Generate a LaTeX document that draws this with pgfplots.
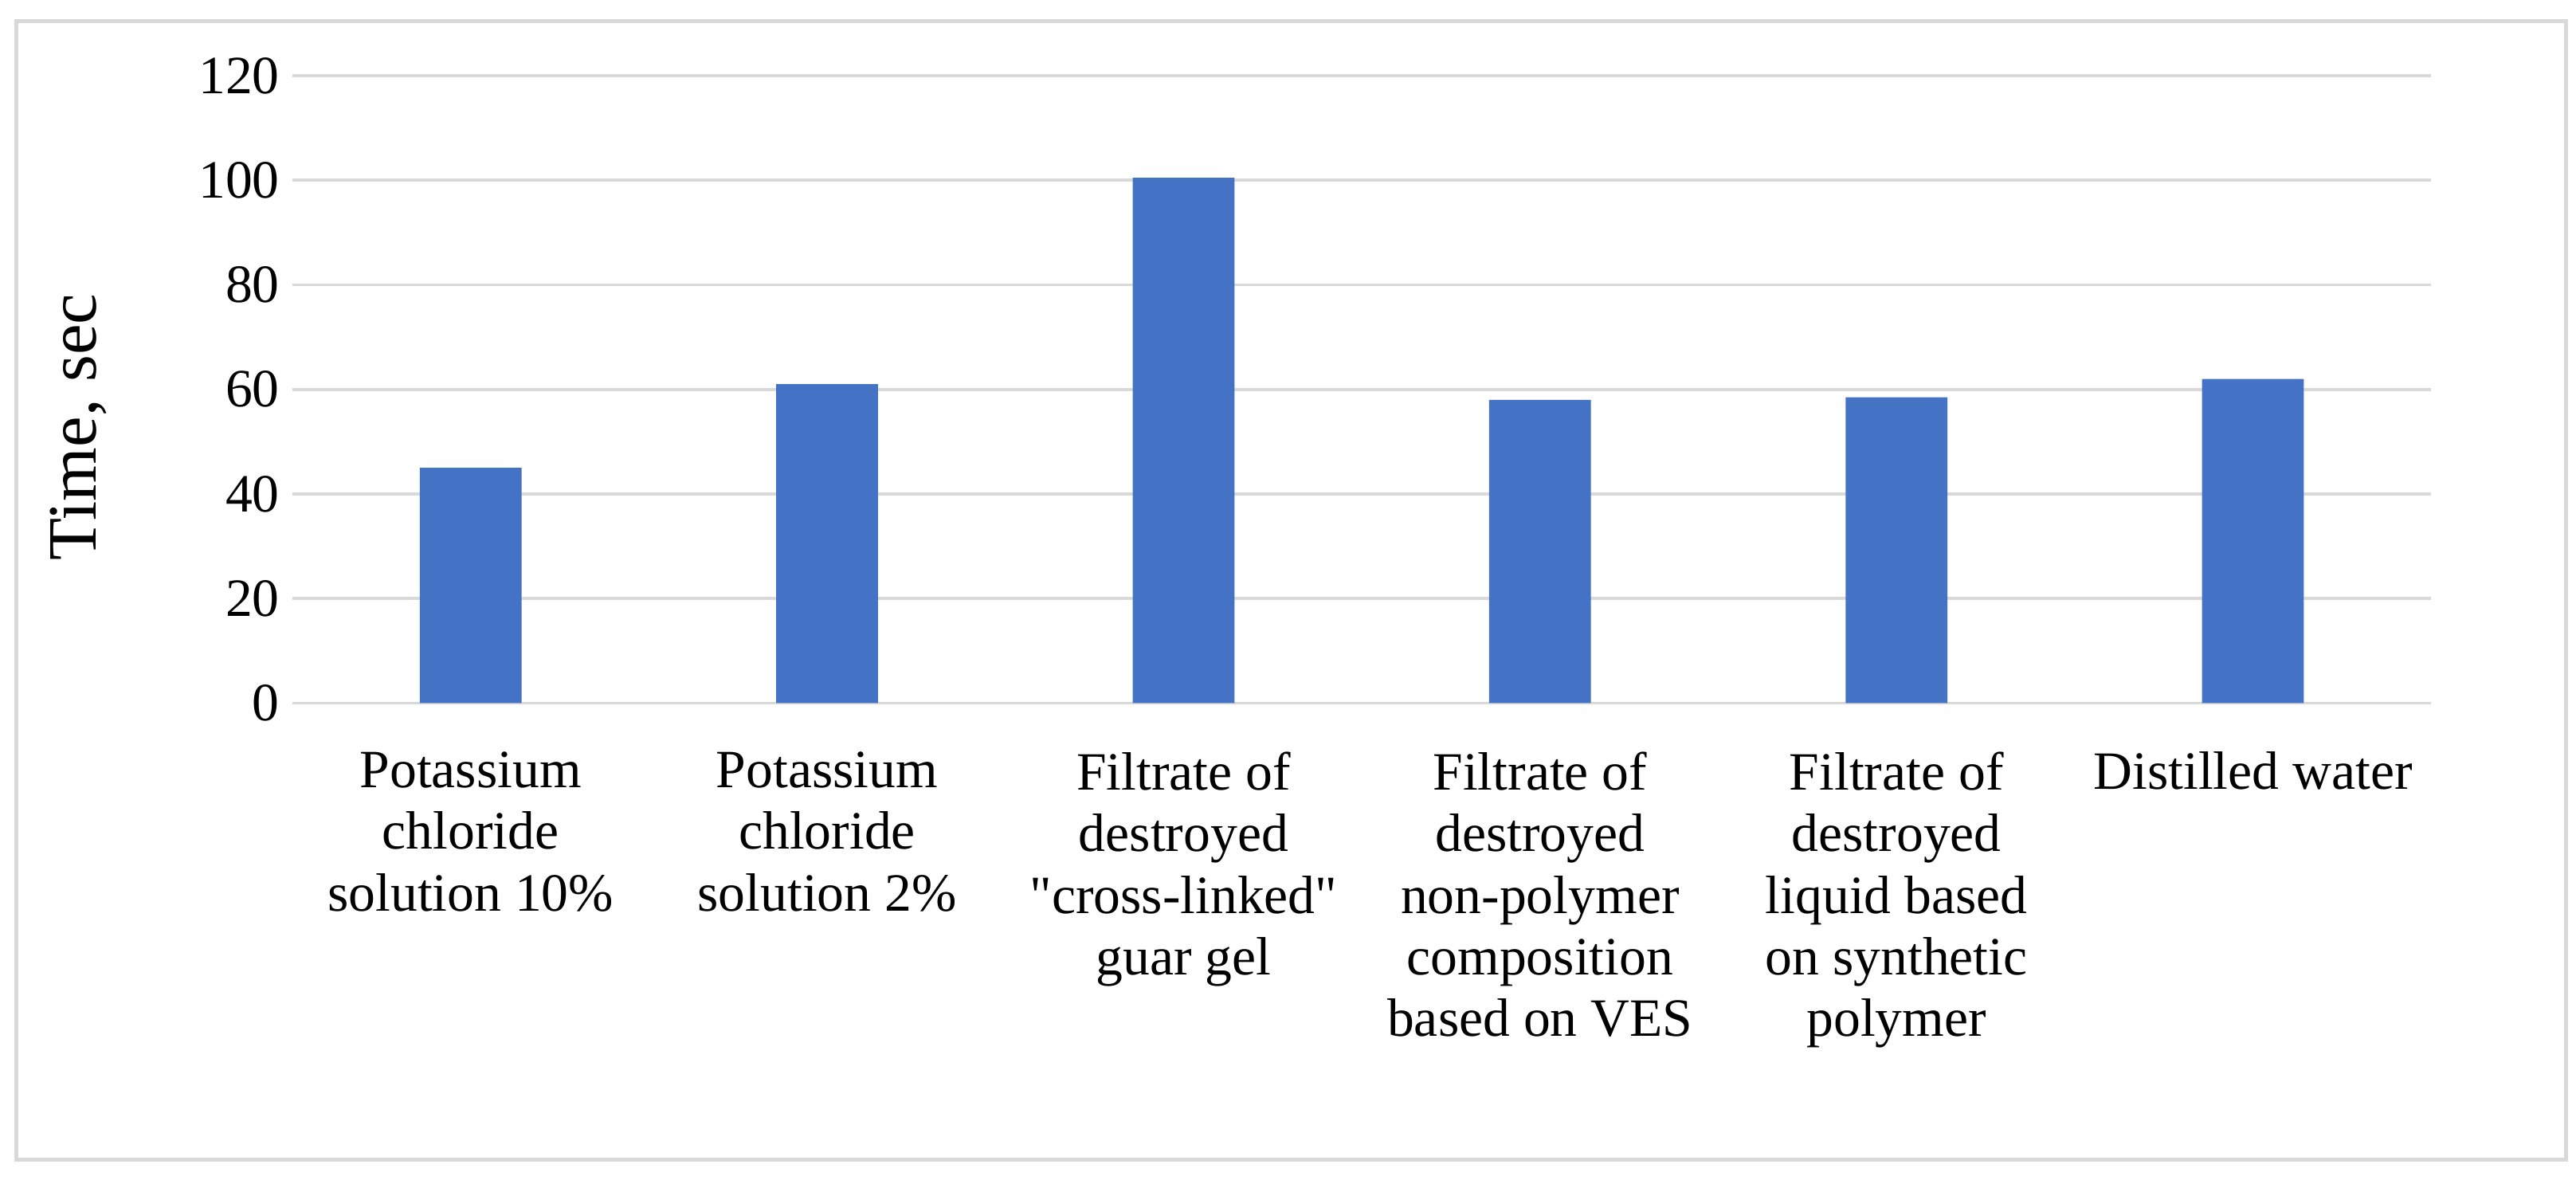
\documentclass[border=0pt]{standalone}
\usepackage{fontspec}
\setmainfont{Liberation Serif}[Ligatures=TeXOff]
\usepackage{pgfplots}
\pgfplotsset{compat=1.18}
\definecolor{barblue}{HTML}{4472C4}
\definecolor{gridgray}{HTML}{D9D9D9}
\begin{document}
\begin{tikzpicture}
\useasboundingbox (0,0) rectangle (501.76pt,229.76pt);
\draw[gridgray, line width=0.8pt] (3.2pt,3.84pt) rectangle (499.8pt,225.6pt);
\begin{axis}[
  at={(56.96pt,92.8pt)}, anchor=south west,
  width=416.6pt, height=122.2pt, scale only axis,
  ymin=0, ymax=120, ytick={0,20,...,120},
  xmin=-0.5, xmax=5.5, xtick={0,...,5},
  xticklabels={{Potassium\\chloride\\solution 10\%},
               {Potassium\\chloride\\solution 2\%},
               {Filtrate of\\destroyed\\"cross-linked"\\guar gel},
               {Filtrate of\\destroyed\\non-polymer\\composition\\based on VES},
               {Filtrate of\\destroyed\\liquid based\\on synthetic\\polymer},
               {Distilled water}},
  axis line style={draw=none},
  major tick length=0pt,
  ymajorgrids,
  major grid style={gridgray, line width=0.6pt},
  /pgf/number format/assume math mode=true,
  yticklabel style={font=\fontsize{10.5}{12}\selectfont, xshift=1pt},
  xticklabel style={font=\fontsize{10.5}{12}\selectfont, align=center, anchor=north, yshift=-6pt},
  ylabel={Time, sec},
  ylabel style={font=\fontsize{13.5}{16}\selectfont, at={(axis description cs:-0.1,0.44)}, anchor=center},
]
\addplot[ybar, bar width=19.84pt, fill=barblue, draw=none]
  coordinates {(0,45) (1,61) (2,100.5) (3,58) (4,58.5) (5,62)};
\end{axis}
\end{tikzpicture}
\end{document}
